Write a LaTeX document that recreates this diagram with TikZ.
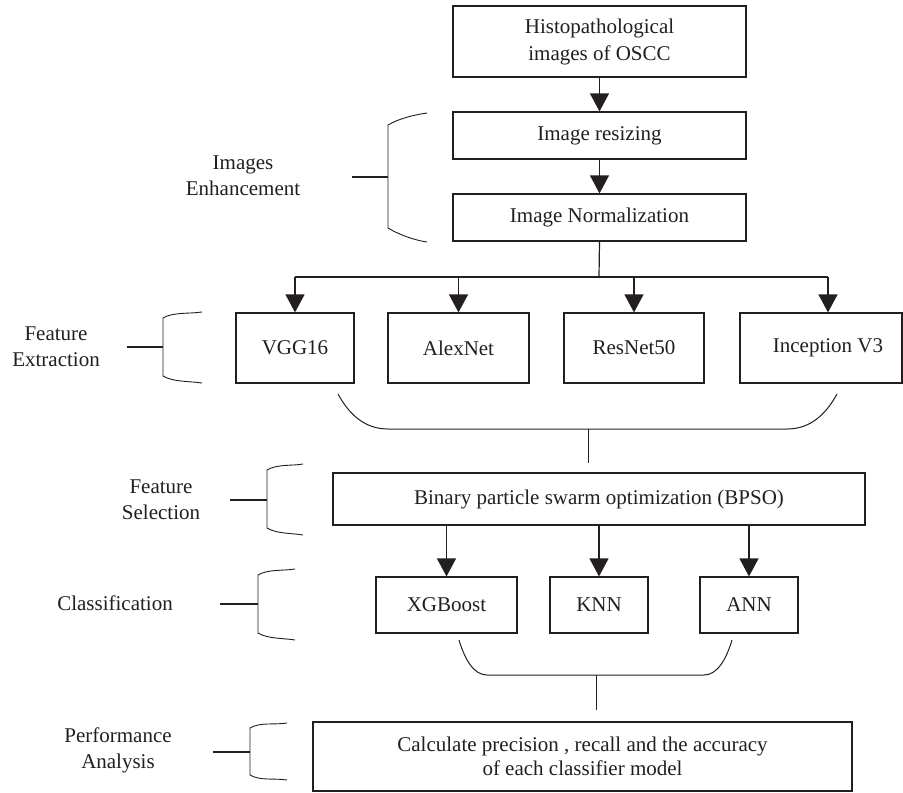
\documentclass[tikz,border=0pt]{standalone}
\usepackage{fontspec}
\setmainfont{Liberation Serif}
\usetikzlibrary{arrows.meta}
\definecolor{ink}{RGB}{35,31,32}
\newcommand\mybrk[8]{%
  \draw[brc] (#4,#5) .. controls (#1+25,#5+2) and (#1+10,#2-6) .. (#1,#2) -- (#1,#3)
    .. controls (#1+10,#3+6) and (#1+25,#6-2) .. (#4,#6);
  \draw[tickln] (#8,#7) -- (#1,#7);}
\begin{document}
\begin{tikzpicture}[x=1pt,y=-1pt,
  box/.style={draw=ink,line width=1.2pt,inner sep=0pt,align=center,
    font=\fontsize{21}{27}\selectfont,text=ink},
  lbl/.style={align=center,font=\fontsize{21}{26}\selectfont,text=ink,inner sep=0pt},
  arr/.style={draw=ink,line width=1.2pt,-{Triangle[length=18pt,width=19pt]}},
  ln/.style={draw=ink,line width=1.2pt},
  crv/.style={draw=ink,line width=1pt},
  brc/.style={draw=ink,line width=0.9pt},
  tickln/.style={draw=ink,line width=1.7pt}]
\useasboundingbox[fill=white] (0,0) rectangle (903,793);

% main column
\node[box,minimum width=293pt,minimum height=71pt] (src) at (599.5,41.5) {Histopathological\\images of OSCC};
\node[box,minimum width=293pt,minimum height=47pt] (resize) at (599.5,135.5) {Image resizing};
\node[box,minimum width=293pt,minimum height=47pt] (norm) at (599.5,217.5) {Image Normalization};
\draw[arr] (src) -- (resize);
\draw[arr] (resize) -- (norm);

% feature extraction
\node[box,minimum width=118pt,minimum height=70pt] (vgg) at (295,348) {VGG16};
\node[box,minimum width=141pt,minimum height=70pt] (alex) at (458.5,348) {AlexNet};
\node[box,minimum width=140pt,minimum height=70pt] (res) at (634,348) {ResNet50};
\node[box,draw=none,minimum width=140pt,minimum height=70pt] (incep) at (828,348) {Inception V3};
\draw[ln] (740,313) rectangle (902,383);

\coordinate (split) at (599,277);
\draw[ln] (norm.south) -- (split);
\draw[ln] (vgg.north |- split) -- (incep.north |- split);
\draw[arr] (vgg.north |- split) -- (vgg.north);
\draw[arr] (alex.north |- split) -- (alex.north);
\draw[arr] (res.north |- split) -- (res.north);
\draw[arr] (incep.north |- split) -- (incep.north);

\draw[crv] (338,394) .. controls (350,416) and (366,429) .. (388,429) -- (787,429)
  .. controls (809,429) and (825,416) .. (837,394);
\coordinate (j1) at (588,429);
\coordinate (j1e) at (588,463);
\draw[crv] (j1) -- (j1e);

% feature selection
\node[box,minimum width=532pt,minimum height=52pt] (bpso) at (599,499) {Binary particle swarm optimization (BPSO)};

% classification
\node[box,minimum width=141pt,minimum height=56pt] (xgb) at (446.5,605) {XGBoost};
\node[box,minimum width=98pt,minimum height=56pt] (knn) at (599,605) {KNN};
\node[box,minimum width=98pt,minimum height=56pt] (ann) at (749,605) {ANN};
\draw[arr] (xgb.north |- bpso.south) -- (xgb.north);
\draw[arr] (knn.north |- bpso.south) -- (knn.north);
\draw[arr] (ann.north |- bpso.south) -- (ann.north);

\draw[crv] (459,640) .. controls (465,660) and (474,675) .. (487,675) -- (704,675)
  .. controls (717,675) and (726,660) .. (732,640);
\coordinate (j2) at (596,675);
\coordinate (j2e) at (596,710);
\draw[crv] (j2) -- (j2e);

% performance
\node[box,minimum width=539pt,minimum height=69pt,font=\fontsize{21}{24}\selectfont] (perf) at (582.5,756.5)
  {Calculate precision , recall and the accuracy\\of each classifier model};

% stage labels
\node[lbl] (l1) at (243,176) {Images\\Enhancement};
\node[lbl] (l2) at (56,347) {Feature\\Extraction};
\node[lbl] (l3) at (161,500) {Feature\\Selection};
\node[lbl] (l4) at (115,603) {Classification};
\node[lbl] (l5) at (118,750) {Performance\\Analysis};

% brackets
\mybrk{388}{125}{228}{427}{113}{242}{177}{352}
\mybrk{163}{318}{376}{202}{312}{383}{347}{127}
\mybrk{267}{470}{528}{303}{464}{535}{500}{230}
\mybrk{258}{575}{633}{295}{569}{640}{604}{220}
\mybrk{250}{728}{775}{287}{723}{780}{752}{213}
\end{tikzpicture}
\end{document}
